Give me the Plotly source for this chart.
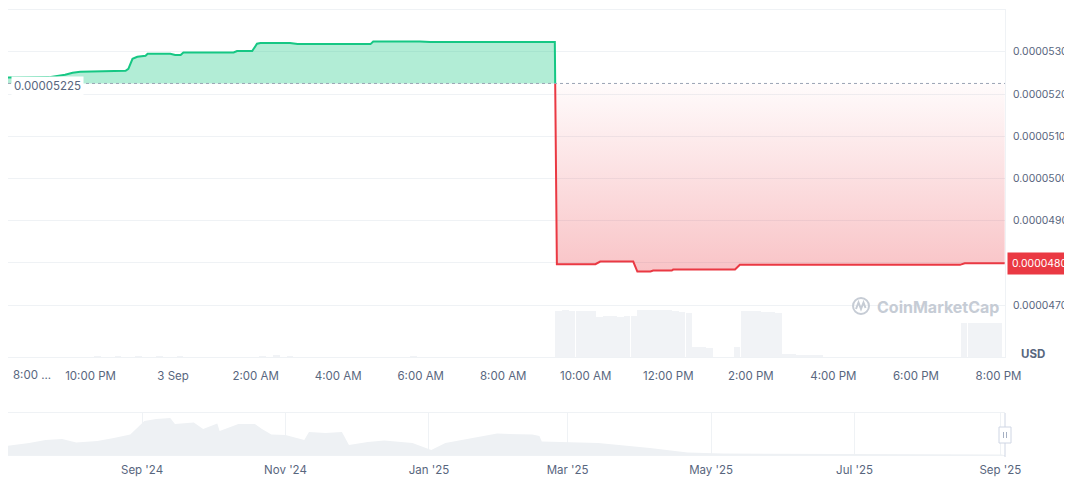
import plotly.graph_objects as go
import pandas as pd

# ---------------- data ----------------
BASELINE = 0.00005225

price_times = [
    "2025-09-02 20:00", "2025-09-02 21:00", "2025-09-02 21:23", "2025-09-02 21:34", "2025-09-02 21:45",
    "2025-09-02 22:51", "2025-09-02 22:55", "2025-09-02 23:01", "2025-09-02 23:08", "2025-09-02 23:20",
    "2025-09-02 23:23", "2025-09-02 23:56", "2025-09-03 00:03", "2025-09-03 00:11", "2025-09-03 00:15",
    "2025-09-03 01:28", "2025-09-03 01:33", "2025-09-03 01:55", "2025-09-03 02:02", "2025-09-03 02:07",
    "2025-09-03 02:50", "2025-09-03 03:01", "2025-09-03 04:47", "2025-09-03 04:51", "2025-09-03 05:59",
    "2025-09-03 06:14", "2025-09-03 09:15", "2025-09-03 09:18", "2025-09-03 10:14", "2025-09-03 10:21",
    "2025-09-03 11:09", "2025-09-03 11:15", "2025-09-03 11:34", "2025-09-03 11:38", "2025-09-03 12:05",
    "2025-09-03 12:07", "2025-09-03 13:37", "2025-09-03 13:44", "2025-09-03 19:04", "2025-09-03 19:11",
    "2025-09-03 20:09",
]
price_values = [
    0.00005239, 0.00005240, 0.000052455, 0.000052502, 0.000052526,
    0.000052550, 0.000052597, 0.000052834, 0.000052882, 0.000052905,
    0.000052953, 0.000052953, 0.000052922, 0.000052922, 0.000052983,
    0.000052983, 0.000053017, 0.000053017, 0.000053190, 0.000053206,
    0.000053206, 0.000053182, 0.000053182, 0.000053244, 0.000053244,
    0.000053230, 0.000053230, 0.000047969, 0.000047969, 0.000048031,
    0.000048031, 0.000047794, 0.000047794, 0.000047818, 0.000047818,
    0.000047841, 0.000047841, 0.000047953, 0.000047953, 0.000047988,
    0.000047988,
]

price_tick_values = [0.000047, 0.000048, 0.000049, 0.000050, 0.000051, 0.000052, 0.000053]

volume_times = [
    "2025-09-02 22:10", "2025-09-02 22:40", "2025-09-02 23:10", "2025-09-02 23:40", "2025-09-03 00:10",
    "2025-09-03 02:10", "2025-09-03 02:30", "2025-09-03 02:50", "2025-09-03 05:50",
    "2025-09-03 09:20", "2025-09-03 09:30", "2025-09-03 09:40", "2025-09-03 09:50", "2025-09-03 10:00",
    "2025-09-03 10:10", "2025-09-03 10:20", "2025-09-03 10:30", "2025-09-03 10:40", "2025-09-03 10:50",
    "2025-09-03 11:00", "2025-09-03 11:10", "2025-09-03 11:20", "2025-09-03 11:30", "2025-09-03 11:40",
    "2025-09-03 11:50", "2025-09-03 12:00", "2025-09-03 12:10", "2025-09-03 12:20", "2025-09-03 12:30",
    "2025-09-03 12:40", "2025-09-03 12:50", "2025-09-03 13:00", "2025-09-03 13:40", "2025-09-03 13:50",
    "2025-09-03 14:00", "2025-09-03 14:10", "2025-09-03 14:20", "2025-09-03 14:30", "2025-09-03 14:40",
    "2025-09-03 14:50", "2025-09-03 15:00", "2025-09-03 15:10", "2025-09-03 15:20", "2025-09-03 15:30",
    "2025-09-03 15:40", "2025-09-03 19:10", "2025-09-03 19:20", "2025-09-03 19:30", "2025-09-03 19:40",
    "2025-09-03 19:50", "2025-09-03 20:00",
]
volume_values = [
    1, 1.5, 1.5, 1, 1,
    2, 3, 2, 1,
    98, 99, 98, 97, 98,
    98, 85, 87, 87, 86,
    87, 88, 99, 100, 100,
    99, 100, 98, 96, 94,
    21, 21, 20, 21, 98,
    98, 97, 96, 95, 93,
    6, 6, 5, 5, 4,
    3, 73, 73, 73, 73,
    73, 73,
]

main_tick_times = [
    "2025-09-02 22:00", "2025-09-03 00:00", "2025-09-03 02:00", "2025-09-03 04:00", "2025-09-03 06:00",
    "2025-09-03 08:00", "2025-09-03 10:00", "2025-09-03 12:00", "2025-09-03 14:00", "2025-09-03 16:00",
    "2025-09-03 18:00", "2025-09-03 20:00",
]
main_tick_labels = [
    "10:00 PM", "3 Sep", "2:00 AM", "4:00 AM", "6:00 AM", "8:00 AM", "10:00 AM", "12:00 PM",
    "2:00 PM", "4:00 PM", "6:00 PM", "8:00 PM",
]
first_tick_label = "8:00 ..."

nav_dates = [
    "2024-07-06", "2024-07-15", "2024-07-22", "2024-07-29", "2024-08-04", "2024-08-13", "2024-08-20",
    "2024-08-27", "2024-09-02", "2024-09-07", "2024-09-13", "2024-09-15", "2024-09-23", "2024-09-27",
    "2024-10-03", "2024-10-04", "2024-10-12", "2024-10-19", "2024-10-22", "2024-10-26", "2024-11-01",
    "2024-11-09", "2024-11-11", "2024-11-18", "2024-11-25", "2024-11-28", "2024-12-06", "2024-12-13",
    "2024-12-25", "2025-01-02", "2025-01-08", "2025-01-17", "2025-01-30", "2025-02-14", "2025-02-17",
    "2025-02-18", "2025-03-14", "2025-04-05", "2025-04-21", "2025-05-06", "2025-06-07", "2025-07-20",
    "2025-09-02",
]
nav_values = [
    9.3, 12, 15, 16, 12.4, 14, 17,
    20.4, 34, 36, 37, 31, 32.5, 26,
    31.5, 24, 31, 31, 26, 20.4, 20,
    15, 23, 22, 23, 10, 13, 14.5,
    12, 5, 12, 16, 21.4, 20.4, 19,
    13.5, 12, 7, 2.4, 1.4, 1.0, 0.8,
    0.6,
]

# ---------------- split at baseline crossing ----------------
t = pd.to_datetime(pd.Series(price_times))
p = list(price_values)
idx = next(i for i, v in enumerate(p) if v < BASELINE)
frac = (p[idx - 1] - BASELINE) / (p[idx - 1] - p[idx])
t_cross = t[idx - 1] + (t[idx] - t[idx - 1]) * frac

g_t = list(t[:idx]) + [t_cross]
g_p = p[:idx] + [BASELINE]
r_t = [t_cross] + list(t[idx:])
r_p = [BASELINE] + p[idx:]

GREEN = "#16c784"
RED = "#ea3943"
GRID = "#eff2f5"
TXT = "#58667e"
FONT = "Inter, sans-serif"

fig = go.Figure()

fig.add_trace(go.Bar(
    x=pd.to_datetime(pd.Series(volume_times)), y=volume_values, yaxis="y2",
    marker=dict(color="#f1f3f6", line=dict(width=0)), width=590000, hoverinfo="skip",
))

fig.add_trace(go.Scatter(x=g_t, y=[BASELINE] * len(g_t), mode="lines",
                         line=dict(width=0, color=GREEN), hoverinfo="skip"))
fig.add_trace(go.Scatter(x=g_t, y=g_p, mode="lines", line=dict(color=GREEN, width=2),
                         fill="tonexty", fillcolor="rgba(22,199,132,0.33)"))
fig.add_trace(go.Scatter(x=r_t, y=[BASELINE] * len(r_t), mode="lines",
                         line=dict(width=0, color=RED), hoverinfo="skip"))
fig.add_trace(go.Scatter(
    x=r_t, y=r_p, mode="lines", line=dict(color=RED, width=2), fill="tonexty",
    fillgradient=dict(type="vertical",
                      colorscale=[[0, "rgba(234,57,67,0.30)"], [1, "rgba(234,57,67,0.02)"]],
                      start=min(r_p), stop=BASELINE),
))

# navigator
fig.add_trace(go.Scatter(
    x=pd.to_datetime(pd.Series(nav_dates)), y=nav_values, xaxis="x2", yaxis="y3",
    mode="lines", line=dict(width=0, color="#eef1f4"), fill="tozeroy", fillcolor="#eef1f4",
))

# The page body adds an 8px offset; positions below are given in screen pixels.
H = 445.0  # plot area height in px (screen y 10 .. 455)


def py(pix):
    return (455 - pix) / H


def px(pix):
    return (pix - 8) / 997.0


last_price = price_values[-1]

fig.update_layout(
    width=1064, height=469,
    margin=dict(l=0, r=67, t=2, b=22, autoexpand=False),
    paper_bgcolor="white", plot_bgcolor="white", showlegend=False,
    font=dict(family=FONT, size=11.5, color=TXT),
    bargap=0,
    xaxis=dict(domain=[0, 1], anchor="y", type="date", automargin=False,
               range=["2025-09-02 20:00", "2025-09-03 20:09:30"],
               tickvals=main_tick_times, ticktext=main_tick_labels,
               showgrid=False, zeroline=False, showline=True, mirror=True, linecolor=GRID,
               ticks="", ticklabelstandoff=8, tickfont=dict(size=11.5, color=TXT)),
    yaxis=dict(domain=[py(357), 1], anchor="x", side="right", automargin=False,
               range=[0.00004577, 0.00005399], tickvals=price_tick_values, tickformat=".7f",
               showgrid=True, gridcolor=GRID, zeroline=False, showline=True, mirror=True,
               linecolor=GRID, ticks="", ticklabelstandoff=5, ticklabeloverflow="allow",
               tickfont=dict(size=10.4, color=TXT)),
    yaxis2=dict(overlaying="y", anchor="x", range=[0, 738], visible=False),
    xaxis2=dict(domain=[0, 1], anchor="y3", type="date", automargin=False,
                range=["2024-07-06", "2025-09-03"], tick0="2024-09-01", dtick="M2",
                tickformat="%b '%y", showgrid=True, gridcolor=GRID, zeroline=False,
                showline=True, mirror=True, linecolor=GRID, ticks="", ticklabelstandoff=4,
                tickfont=dict(size=11.5, color=TXT)),
    yaxis3=dict(domain=[0, py(413)], anchor="x2", range=[0, 42], showgrid=False, automargin=False,
                zeroline=False, showticklabels=False, showline=False),
)

shapes = [
    dict(type="line", xref="paper", yref="y", x0=0, x1=1, y0=BASELINE, y1=BASELINE,
         line=dict(color="#9aa3b4", width=1, dash="dot"), layer="above"),
    # navigator right handle
    dict(type="line", xref="paper", yref="paper", x0=1, x1=1, y0=py(457), y1=py(413),
         line=dict(color="#cfd6e4", width=1)),
    dict(type="rect", xref="paper", yref="paper", x0=px(999), x1=px(1011), y0=py(443), y1=py(427),
         fillcolor="white", line=dict(color="#cfd6e4", width=1)),
    dict(type="line", xref="paper", yref="paper", x0=px(1003.5), x1=px(1003.5), y0=py(438), y1=py(432),
         line=dict(color="#a6b0c3", width=1)),
    dict(type="line", xref="paper", yref="paper", x0=px(1006.5), x1=px(1006.5), y0=py(438), y1=py(432),
         line=dict(color="#a6b0c3", width=1)),
    # watermark logo
    dict(type="circle", xref="paper", yref="paper", x0=px(853), x1=px(869), y0=py(314), y1=py(298),
         line=dict(color="#c6ccd5", width=2)),
    dict(type="path", xref="paper", yref="paper",
         path=(f"M {px(856)},{py(309)} L {px(858.5)},{py(302.5)} L {px(861)},{py(309)} "
               f"L {px(863.5)},{py(302.5)} L {px(865.5)},{py(308)}"),
         line=dict(color="#c6ccd5", width=2)),
]

annotations = [
    dict(text="0.00005225", xref="paper", x=0, xanchor="left", xshift=3,
         yref="y", y=BASELINE, yanchor="middle", yshift=-3, showarrow=False,
         bgcolor="white", borderpad=2, font=dict(size=11.5, color=TXT)),
    dict(text=f"{last_price:.7f}", xref="paper", x=1, xanchor="left", xshift=2,
         yref="y", y=last_price, yanchor="middle", showarrow=False,
         bgcolor=RED, borderpad=4, font=dict(size=10.4, color="white")),
    dict(text="<b>USD</b>", xref="paper", x=1, xanchor="left", xshift=14,
         yref="paper", y=py(354), yanchor="middle", showarrow=False,
         font=dict(size=11.5, color=TXT)),
    dict(text=first_tick_label, xref="paper", x=0, xanchor="left", xshift=3,
         yref="paper", y=py(375), yanchor="middle", showarrow=False,
         font=dict(size=11.5, color=TXT)),
    dict(text="<b>CoinMarketCap</b>", xref="paper", x=px(875), xanchor="left",
         yref="paper", y=py(306.5), yanchor="middle", showarrow=False,
         font=dict(size=16, color="#c6ccd5")),
]

fig.update_layout(shapes=shapes, annotations=annotations)

fig.write_html("out.html")
